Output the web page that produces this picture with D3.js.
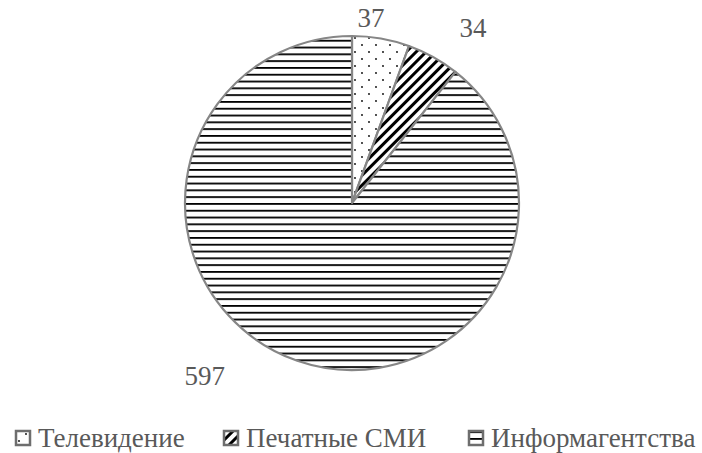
<!DOCTYPE html>
<html>
<head>
<meta charset="utf-8">
<script src="https://cdn.jsdelivr.net/npm/d3@7"></script>
<style>
  body { margin: 0; background: #fff; }
  svg text { font-family: "Liberation Serif", "Times New Roman", serif; fill: #595959; }
</style>
</head>
<body>
<div id="chart"></div>
<script>
const categories = ["Телевидение", "Печатные СМИ", "Информагентства"];
const values = [37, 34, 597];
const patternIds = ["dots", "diag", "hlines"];

const width = 702, height = 453;
const cx = 352, cy = 203, radius = 167;

const svg = d3.select("#chart").append("svg")
    .attr("width", width)
    .attr("height", height);

const defs = svg.append("defs");

// dotted pattern
const dots = defs.append("pattern")
    .attr("id", "dots").attr("patternUnits", "userSpaceOnUse")
    .attr("width", 14).attr("height", 14);
dots.append("rect").attr("width", 14).attr("height", 14).attr("fill", "#fff");
dots.append("circle").attr("cx", 3).attr("cy", 3).attr("r", 0.9).attr("fill", "#000");
dots.append("circle").attr("cx", 10).attr("cy", 10).attr("r", 0.9).attr("fill", "#000");

// wide diagonal stripes
const diag = defs.append("pattern")
    .attr("id", "diag").attr("patternUnits", "userSpaceOnUse")
    .attr("width", 7).attr("height", 7)
    .attr("patternTransform", "rotate(45)");
diag.append("rect").attr("width", 7).attr("height", 7).attr("fill", "#fff");
diag.append("rect").attr("x", 0).attr("width", 3).attr("height", 7).attr("fill", "#000");

// horizontal lines
const hl = defs.append("pattern")
    .attr("id", "hlines").attr("patternUnits", "userSpaceOnUse")
    .attr("width", 8).attr("height", 6.8);
hl.append("rect").attr("width", 8).attr("height", 6.8).attr("fill", "#fff");
hl.append("rect").attr("y", 0).attr("width", 8).attr("height", 1.8).attr("fill", "#000");

const pie = d3.pie().sort(null).value(d => d);
const arcs = pie(values);

const arc = d3.arc().innerRadius(0).outerRadius(radius);

const g = svg.append("g").attr("transform", `translate(${cx},${cy})`);

g.selectAll("path")
    .data(arcs)
    .enter().append("path")
    .attr("d", arc)
    .attr("fill", (d, i) => `url(#${patternIds[i]})`)
    .attr("stroke", "#868686")
    .attr("stroke-width", 2.2)
    .attr("stroke-linejoin", "round");

// data labels (best-fit style: pushed away from centroid)
const labelShift = [{ da: -4.1, r: 186 }, { da: 5.5, r: 213 }, { da: 21.3, r: 227 }];
g.selectAll("text.lbl")
    .data(arcs)
    .enter().append("text")
    .attr("class", "lbl")
    .attr("text-anchor", "middle")
    .attr("dominant-baseline", "central")
    .attr("font-size", 27)
    .attr("transform", (d, i) => {
        const a = (d.startAngle + d.endAngle) / 2 + labelShift[i].da * Math.PI / 180;
        const r = labelShift[i].r;
        return `translate(${r * Math.sin(a)},${-r * Math.cos(a)})`;
    })
    .text(d => d.data);

// legend
const legendX = [16, 224, 469];
const legend = svg.append("g").attr("transform", "translate(0,438)");
const item = legend.selectAll("g")
    .data(categories)
    .enter().append("g")
    .attr("transform", (d, i) => `translate(${legendX[i]},0)`);

item.append("rect")
    .attr("x", 0).attr("y", -7)
    .attr("width", 14).attr("height", 14)
    .attr("fill", (d, i) => `url(#${patternIds[i]})`)
    .attr("stroke", "#6e6e6e")
    .attr("stroke-width", 2.5);

item.append("text")
    .attr("x", 22)
    .attr("y", 0)
    .attr("dominant-baseline", "central")
    .attr("font-size", 27)
    .text(d => d);
</script>
</body>
</html>
